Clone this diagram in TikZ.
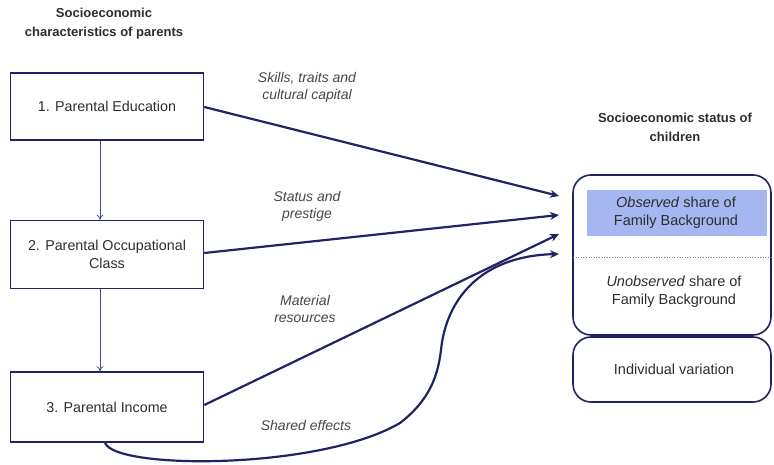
\documentclass[tikz,border=0pt]{standalone}
\usepackage{fontspec}
\setmainfont{Liberation Sans}
\usetikzlibrary{arrows.meta}
\definecolor{navy}{RGB}{32,36,102}
\definecolor{thinnavy}{RGB}{70,72,150}
\definecolor{obsblue}{RGB}{166,182,240}
\definecolor{txt}{RGB}{45,45,45}
\definecolor{lbl}{RGB}{70,70,70}
\tikzset{
  parbox/.style={draw=navy, line width=1.6pt, minimum width=193pt, text=txt, font=\fontsize{14.3}{18}\selectfont, align=center, inner sep=0pt},
  thick arrow/.style={draw=navy, line width=2.2pt, -{Stealth[length=9pt,width=8pt]}},
  thin arrow/.style={draw=thinnavy, line width=0.8pt, -{To[length=5pt,width=7pt]}},
  lab/.style={text=lbl, font=\fontsize{14}{17}\selectfont\itshape, align=center},
  ttl/.style={text=txt, font=\fontsize{13}{19}\selectfont\bfseries, align=center},
  rbox/.style={draw=navy, line width=1.6pt, rounded corners=18pt, minimum width=198pt, inner sep=0pt},
  rtext/.style={text=txt, font=\fontsize{14.5}{17.5}\selectfont, align=center}
}
\begin{document}
\begin{tikzpicture}[x=1pt,y=-1pt]
\useasboundingbox (0,0) rectangle (774,465);
% titles
\node[ttl] (tl) at (104,24) {Socioeconomic\\characteristics of parents};
\node[ttl] (tr) at (675,127) {Socioeconomic status of\\children};
% parent boxes
\node[parbox, minimum height=67pt] (b1) at (107,106.5) {1. Parental Education};
\node[parbox, minimum height=68pt] (b2) at (107,254.5) {2. Parental Occupational\\Class};
\node[parbox, minimum height=70pt] (b3) at (107,407) {3. Parental Income};
% right boxes
\node[rbox, minimum height=160pt] (big) at (672,255) {};
\node[rbox, minimum height=65pt] (ind) at (672,369.5) {};
\node[rtext] (indt) at (674,369.5) {Individual variation};
\node[fill=obsblue, minimum width=180pt, minimum height=46pt, inner sep=0pt] (obs) at (677,213) {};
\node[rtext] (obst) at (676,213) {\textit{Observed} share of\\Family Background};
\node[rtext] (unobst) at (674,292) {\textit{Unobserved} share of\\Family Background};
\coordinate (dl) at (573,257);
\coordinate (dr) at (773,257);
\draw[gray, dotted, line width=0.6pt] (dl) -- (dr);
% targets
\coordinate (t1) at (559,196);
\coordinate (t2) at (559,215);
\coordinate (t3) at (559,234);
\coordinate (t4) at (559,254);
% thin vertical arrows
\draw[thin arrow] (b1.south -| 100,0) -- (b2.north -| 100,0);
\draw[thin arrow] (b2.south -| 100,0) -- (b3.north -| 100,0);
% thick arrows
\draw[thick arrow] (b1.east |- 0,107) -- (t1);
\draw[thick arrow] (b2.east |- 0,253) -- (t2);
\draw[thick arrow] (b3.east |- 0,405) -- (t3);
\draw[thick arrow] (b3.south -| 105,0) .. controls (115,470) and (320,470) .. (400,423)
  .. controls (430,400) and (438,375) .. (441,350)
  .. controls (446,300) and (480,256) .. (t4);
% labels
\node[lab] (l1) at (307,87) {Skills, traits and\\cultural capital};
\node[lab] (l2) at (307,206) {Status and\\prestige};
\node[lab] (l3) at (305,309) {Material\\resources};
\node[lab] (l4) at (306,425) {Shared effects};
\end{tikzpicture}
\end{document}
